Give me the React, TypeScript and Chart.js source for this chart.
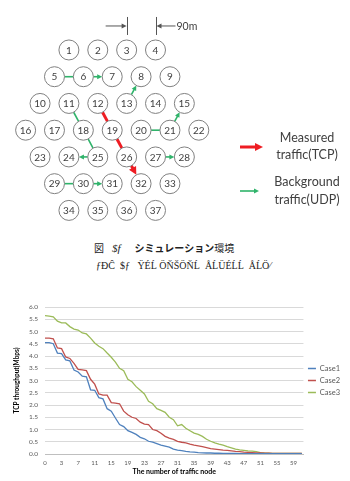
import React, { useEffect, useRef } from "react";
import { Chart, registerables } from "chart.js";

Chart.register(...registerables);

const LATIN = "Lato, 'Open Sans', 'Liberation Sans', sans-serif";
Chart.defaults.font.family = LATIN;

// ---------- Diagram data ----------
const nodeRows: number[][] = [
  [1, 2, 3, 4],
  [5, 6, 7, 8, 9],
  [10, 11, 12, 13, 14, 15],
  [16, 17, 18, 19, 20, 21, 22],
  [23, 24, 25, 26, 27, 28],
  [29, 30, 31, 32, 33],
  [34, 35, 36, 37],
];
// [from, to, arrowHead]
const udpLinks: [number, number, boolean][] = [
  [5, 6, false],
  [6, 7, true],
  [13, 8, true],
  [11, 18, false],
  [18, 25, false],
  [25, 24, true],
  [20, 21, false],
  [21, 15, true],
  [27, 28, true],
  [29, 30, false],
  [30, 31, true],
];
const tcpLinks: [number, number, boolean][] = [
  [12, 19, false],
  [19, 26, false],
  [26, 32, true],
];
const distanceLabel = "90m";
const legendTcp = ["Measured", "traffic(TCP)"];
const legendUdp = ["Background", "traffic(UDP)"];

// ---------- Chart data ----------
const xTickLabels = ["0", "3", "7", "11", "15", "19", "23", "27", "31", "35", "39", "43", "47", "51", "55", "59"];
const seriesNames = ["Case1", "Case2", "Case3"];
const case1 = [
  4.55, 4.55, 4.5, 4.12, 4.1, 3.84, 3.8, 3.43, 3.35, 3.18, 3.15, 2.62, 2.6, 2.3, 2.25, 1.85,
  1.75, 1.47, 1.2, 1.12, 0.95, 0.88, 0.8, 0.68, 0.62, 0.52, 0.48, 0.42, 0.36, 0.32, 0.28, 0.2,
  0.16, 0.14, 0.11, 0.09, 0.08, 0.06, 0.05, 0.04, 0.04, 0.03, 0.03, 0.02, 0.02, 0.02, 0.02, 0.01,
  0.01, 0.01, 0.01, 0.01, 0.01, 0.01, 0.01, 0.01, 0.01, 0.01, 0.01, 0.01, 0.01, 0.01, 0.01,
];
const case2 = [
  4.73, 4.73, 4.7, 4.33, 4.3, 3.96, 3.9, 3.7, 3.45, 3.43, 3.4, 3.05, 2.85, 2.45, 2.4, 2.4,
  2.1, 2.08, 2.05, 1.75, 1.6, 1.5, 1.45, 1.3, 1.22, 1.2, 1.0, 0.95, 0.85, 0.72, 0.65, 0.6,
  0.52, 0.48, 0.45, 0.4, 0.36, 0.33, 0.3, 0.26, 0.22, 0.2, 0.18, 0.16, 0.15, 0.13, 0.11, 0.1,
  0.08, 0.07, 0.06, 0.05, 0.04, 0.03, 0.03, 0.02, 0.02, 0.02, 0.02, 0.02, 0.02, 0.02, 0.02,
];
const case3 = [
  5.65, 5.63, 5.6, 5.42, 5.35, 5.35, 5.2, 5.1, 5.06, 4.94, 4.9, 4.73, 4.53, 4.4, 4.3, 4.12,
  3.95, 3.75, 3.5, 3.4, 3.05, 2.95, 2.75, 2.6, 2.45, 2.15, 2.05, 1.85, 1.78, 1.7, 1.5, 1.4,
  1.15, 1.2, 1.05, 0.95, 0.85, 0.8, 0.72, 0.6, 0.52, 0.45, 0.4, 0.36, 0.3, 0.25, 0.2, 0.17,
  0.15, 0.13, 0.12, 0.1, 0.06, 0.04, 0.03, 0.02, 0.02, 0.02, 0.02, 0.02, 0.02, 0.02, 0.02,
];
const seriesColors = ["#4F81BD", "#C0504D", "#9BBB59"];

const GREEN = "#2fb36a";
const RED = "#ee1d23";

function toPoints(vals: number[]) {
  return vals.map((v, i) => ({ x: i, y: v }));
}

function Diagram() {
  const ref = useRef<HTMLCanvasElement>(null);
  useEffect(() => {
    const nodes = nodeRows.flatMap((row, r) =>
      row.map((id, k) => ({ x: k - (row.length - 1) / 2, y: r, id }))
    );
    const R = 10;

    const plugin = {
      id: "diagram",
      beforeDatasetsDraw(chart: any) {
        const ctx = chart.ctx as CanvasRenderingContext2D;
        const xs = chart.scales.x;
        const ys = chart.scales.y;
        const pos = (id: number) => {
          const n = nodes.find((q) => q.id === id)!;
          return { x: xs.getPixelForValue(n.x), y: ys.getPixelForValue(n.y) };
        };
        const head = (tx: number, ty: number, ux: number, uy: number, len: number, w: number, color: string) => {
          ctx.fillStyle = color;
          ctx.beginPath();
          ctx.moveTo(tx, ty);
          ctx.lineTo(tx - ux * len - uy * w / 2, ty - uy * len + ux * w / 2);
          ctx.lineTo(tx - ux * len + uy * w / 2, ty - uy * len - ux * w / 2);
          ctx.closePath();
          ctx.fill();
        };
        const link = (a: number, b: number, arrow: boolean, color: string, width: number, hl: number) => {
          const p = pos(a);
          const q = pos(b);
          const dx = q.x - p.x;
          const dy = q.y - p.y;
          const len = Math.hypot(dx, dy);
          const ux = dx / len;
          const uy = dy / len;
          const sx = p.x + ux * R;
          const sy = p.y + uy * R;
          const ex = q.x - ux * R;
          const ey = q.y - uy * R;
          ctx.save();
          ctx.strokeStyle = color;
          ctx.lineWidth = width;
          ctx.beginPath();
          ctx.moveTo(sx, sy);
          ctx.lineTo(arrow ? ex - ux * hl * 0.7 : ex, arrow ? ey - uy * hl * 0.7 : ey);
          ctx.stroke();
          if (arrow) head(ex, ey, ux, uy, hl, hl, color);
          ctx.restore();
        };
        udpLinks.forEach(([a, b, h]) => link(a, b, h, GREEN, 1.6, 5));
        tcpLinks.forEach(([a, b, h]) => link(a, b, h, RED, 3, 8));

        // 90m distance marker between nodes 3 and 4
        const n3 = pos(3);
        const n4 = pos(4);
        const top = n3.y - 33;
        const bot = n3.y - 15;
        const my = n3.y - 24;
        ctx.save();
        ctx.strokeStyle = "#555";
        ctx.lineWidth = 1;
        ctx.beginPath();
        ctx.moveTo(Math.round(n3.x) + 0.5, top);
        ctx.lineTo(Math.round(n3.x) + 0.5, bot);
        ctx.moveTo(Math.round(n4.x) + 0.5, top);
        ctx.lineTo(Math.round(n4.x) + 0.5, bot);
        ctx.moveTo(n3.x - 21, my);
        ctx.lineTo(n3.x - 4, my);
        ctx.moveTo(n4.x + 20, my);
        ctx.lineTo(n4.x + 4, my);
        ctx.stroke();
        head(n3.x, my, 1, 0, 5, 5, "#555");
        head(n4.x + 1, my, -1, 0, 5, 5, "#555");
        ctx.fillStyle = "#404040";
        ctx.font = `10.5px ${LATIN}`;
        ctx.textAlign = "left";
        ctx.textBaseline = "middle";
        ctx.fillText(distanceLabel, n4.x + 21, my + 0.5);

        // legend arrows
        ctx.strokeStyle = RED;
        ctx.lineWidth = 3;
        ctx.beginPath();
        ctx.moveTo(240, 147);
        ctx.lineTo(256, 147);
        ctx.stroke();
        head(263, 147, 1, 0, 8, 8, RED);
        ctx.strokeStyle = GREEN;
        ctx.lineWidth = 1.6;
        ctx.beginPath();
        ctx.moveTo(240, 191);
        ctx.lineTo(255, 191);
        ctx.stroke();
        head(259, 191, 1, 0, 5, 5, GREEN);
        ctx.restore();
      },
      afterDatasetsDraw(chart: any) {
        const ctx = chart.ctx as CanvasRenderingContext2D;
        const xs = chart.scales.x;
        const ys = chart.scales.y;
        ctx.save();
        ctx.fillStyle = "#404040";
        ctx.font = `10px ${LATIN}`;
        ctx.textAlign = "center";
        ctx.textBaseline = "middle";
        nodes.forEach((n) => {
          ctx.fillText(String(n.id), xs.getPixelForValue(n.x), ys.getPixelForValue(n.y) + 0.5);
        });
        ctx.restore();
      },
    };

    const chart = new Chart(ref.current!, {
      type: "scatter",
      data: {
        datasets: [
          {
            data: nodes,
            pointRadius: R,
            pointHoverRadius: R,
            pointBackgroundColor: "#ffffff",
            pointBorderColor: "#808080",
            pointBorderWidth: 1,
          },
        ],
      },
      options: {
        responsive: false,
        animation: false,
        events: [],
        layout: { padding: 0 },
        plugins: { legend: { display: false }, tooltip: { enabled: false } },
        scales: {
          x: { type: "linear", display: false, min: -108 / 30.8, max: (350 - 108) / 30.8 },
          y: { type: "linear", display: false, reverse: true, min: -43 / 29.5, max: (235 - 43) / 29.5 },
        },
      },
      plugins: [plugin],
    } as any);
    return () => chart.destroy();
  }, []);
  return <canvas ref={ref} width={350} height={235} style={{ position: "absolute", left: 0, top: 0 }} />;
}

function ThroughputChart() {
  const ref = useRef<HTMLCanvasElement>(null);
  useEffect(() => {
    const all = [case1, case2, case3];
    const chart = new Chart(ref.current!, {
      type: "line",
      data: {
        datasets: all.map((vals, i) => ({
          label: seriesNames[i],
          data: toPoints(vals),
          borderColor: seriesColors[i],
          backgroundColor: seriesColors[i],
          borderWidth: 1.3,
          pointRadius: 0,
          tension: 0,
        })),
      },
      options: {
        responsive: false,
        animation: false,
        events: [],
        layout: { padding: { top: 22, right: 0, bottom: 0, left: 0 } },
        plugins: {
          tooltip: { enabled: false },
          legend: {
            position: "right",
            fullSize: false,
            labels: {
              usePointStyle: true,
              pointStyle: "line",
              pointStyleWidth: 8,
              boxHeight: 7,
              padding: 4.5,
              color: "#595959",
              font: { family: LATIN, size: 7.5 },
            },
          },
        },
        scales: {
          x: {
            type: "linear",
            min: 0,
            max: 62.4,
            afterFit: (s: any) => {
              s.height = 27;
            },
            grid: { display: false, drawTicks: false },
            border: { display: true, color: "#BFBFBF" },
            ticks: {
              stepSize: 4,
              includeBounds: false,
              autoSkip: false,
              maxRotation: 0,
              padding: 5,
              color: "#595959",
              font: { family: LATIN, size: 6 },
              callback: (v: any) => {
                const k = Number(v) / 4;
                return Number.isInteger(k) && xTickLabels[k] !== undefined ? xTickLabels[k] : "";
              },
            },
            title: {
              display: true,
              text: "The number of traffic node",
              color: "#000",
              font: { family: LATIN, size: 7, weight: "bold" },
              padding: { top: 0, bottom: 4.8 },
            },
          },
          y: {
            min: 0,
            max: 6,
            afterFit: (s: any) => {
              s.width = 45;
            },
            grid: { color: "#D9D9D9", drawTicks: false },
            border: { display: false },
            ticks: {
              stepSize: 0.5,
              padding: 7,
              color: "#595959",
              font: { family: LATIN, size: 6.5 },
              callback: (v: any) => Number(v).toFixed(1),
            },
            title: {
              display: true,
              text: "TCP throughput(Mbps)",
              color: "#000",
              font: { family: LATIN, size: 6.5, weight: "bold" },
              padding: { top: 13, bottom: 0 },
            },
          },
        },
      },
    } as any);
    return () => chart.destroy();
  }, []);
  return <canvas ref={ref} width={350} height={196} style={{ position: "absolute", left: 0, top: 285 }} />;
}

export default function App() {
  const legendText: React.CSSProperties = {
    position: "absolute",
    left: 257,
    width: 100,
    textAlign: "center",
    color: "#404040",
    fontFamily: LATIN,
    fontSize: 12.5,
  };
  return (
    <div
      style={{
        position: "absolute",
        left: 0,
        top: 0,
        width: 350,
        height: 481,
        background: "#fff",
        overflow: "hidden",
      }}
    >
      <Diagram />
      <div style={{ ...legendText, top: 129, lineHeight: "17px" }}>
        {legendTcp[0]}
        <br />
        {legendTcp[1]}
      </div>
      <div style={{ ...legendText, top: 173, lineHeight: "18px" }}>
        {legendUdp[0]}
        <br />
        {legendUdp[1]}
      </div>
      <div
        style={{
          position: "absolute",
          left: 94,
          top: 240,
          height: 16,
          lineHeight: "16px",
          fontSize: 10,
          color: "#222",
          whiteSpace: "nowrap",
          fontFamily: "'Noto Sans CJK JP', sans-serif",
        }}
      >
        <span>図</span>
        <span style={{ marginLeft: 8, fontFamily: "'Liberation Serif', serif", fontStyle: "italic", fontSize: 11 }}>$f</span>
        <span style={{ marginLeft: 14, fontWeight: "bold" }}>シミュレーション</span>
        <span>環境</span>
      </div>
      <div
        style={{
          position: "absolute",
          left: 96,
          top: 258,
          height: 16,
          lineHeight: "16px",
          fontSize: 10,
          color: "#222",
          whiteSpace: "nowrap",
          fontFamily: "'Liberation Serif', serif",
        }}
      >
        ƒÐĈ&nbsp;&nbsp;$ƒ&nbsp;&nbsp;&nbsp;ŸÉĹ ÖŇŠÖŇĹ&nbsp;&nbsp;ÅĹÜÉĹĹ&nbsp;&nbsp;ÅĹÖ⁄
      </div>
      <ThroughputChart />
    </div>
  );
}
